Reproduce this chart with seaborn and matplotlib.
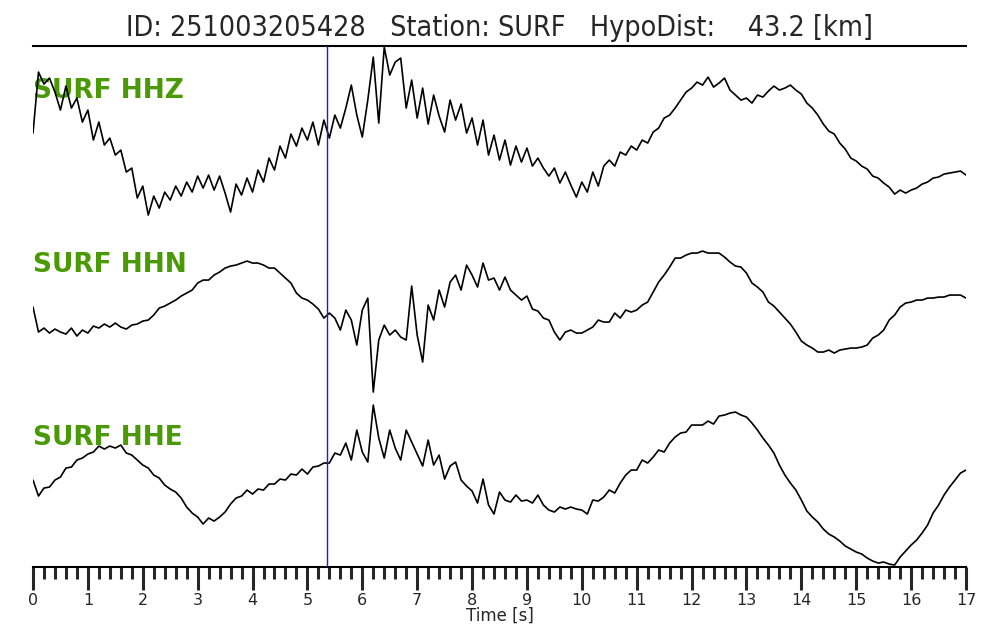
import numpy as np
import pandas as pd
import seaborn as sns
from matplotlib import pyplot as plt
from matplotlib.ticker import MultipleLocator

# sampling step of the traces [s]
dt = 0.1
station = "SURF"
event_id = "251003205428"
hypo_dist = 43.2
pick_time = 5.35

channels = ["HHZ", "HHN", "HHE"]

# amplitudes (arbitrary units, one value every 0.1 s)
hhz = [2, 63, 51, 57, 43, 25, 49, 27, 37, 13,
       25, -5, 13, -10, -3, -20, -15, -37, -33, -63,
       -51, -80, -61, -73, -57, -65, -51, -61, -47, -57,
       -41, -53, -40, -55, -41, -58, -77, -49, -60, -43,
       -57, -35, -47, -23, -35, -11, -23, 1, -11, 7,
       -5, 13, -10, 15, -3, 20, 7, 27, 50, 20,
       -2, 35, 78, 12, 88, 60, 73, 77, 27, 55,
       17, 47, 11, 40, 19, 3, 35, 15, 31, 2,
       17, -10, 15, -20, 0, -25, -5, -30, -11, -27,
       -13, -31, -23, -33, -41, -33, -48, -37, -50, -62,
       -47, -57, -37, -51, -31, -25, -31, -17, -20, -11,
       -15, -5, -8, 3, 7, 17, 20, 27, 35, 43,
       47, 53, 50, 58, 48, 52, 57, 45, 40, 35,
       37, 32, 40, 38, 44, 49, 45, 47, 50, 45,
       41, 32, 27, 20, 11, 4, 1, -8, -14, -23,
       -26, -31, -34, -41, -43, -48, -52, -59, -55, -58,
       -55, -53, -49, -47, -43, -42, -39, -38, -37, -36,
       -40]

hhn = [15, -10, -6, -11, -7, -10, -12, -6, -14, -8,
       -11, -4, -6, -2, -5, -1, -5, -7, -3, -2,
       1, 2, 7, 14, 16, 19, 22, 26, 29, 32,
       39, 42, 42, 47, 50, 54, 56, 57, 59, 61,
       59, 59, 57, 54, 54, 49, 44, 39, 29, 24,
       22, 18, 13, 4, 9, 4, -8, 12, 2, -23,
       12, 24, -70, -18, -3, -13, -8, -15, -18, 36,
       -13, -40, 17, 2, 32, 15, 40, 47, 32, 57,
       47, 35, 59, 42, 44, 32, 45, 32, 27, 22,
       26, 13, 11, 4, 2, -10, -18, -10, -8, -11,
       -11, -8, -5, 2, 0, 0, 9, 4, 12, 10,
       12, 17, 20, 30, 40, 47, 55, 64, 64, 67,
       69, 69, 71, 69, 69, 69, 65, 60, 56, 55,
       49, 39, 35, 30, 20, 16, 10, 4, -2, -10,
       -19, -23, -26, -30, -30, -28, -31, -28, -27, -26,
       -26, -25, -23, -16, -13, -8, 2, 7, 15, 19,
       20, 22, 22, 24, 24, 25, 25, 27, 27, 27,
       24]

hhe = [5, -11, -3, -2, 5, 8, 17, 18, 25, 27,
       31, 33, 39, 36, 39, 37, 40, 32, 30, 25,
       20, 17, 10, 7, 0, -4, -7, -13, -22, -28,
       -32, -39, -33, -36, -32, -27, -19, -13, -11, -5,
       -9, -4, -5, 1, 1, 6, 5, 11, 10, 16,
       11, 18, 19, 22, 22, 32, 30, 42, 25, 55,
       33, 23, 80, 47, 27, 55, 37, 25, 55, 43,
       31, 19, 45, 20, 30, 6, 19, 23, 5, -1,
       -6, -18, 6, -20, -29, -7, -15, -17, -10, -16,
       -15, -18, -10, -20, -25, -27, -22, -24, -22, -24,
       -25, -29, -15, -16, -12, -5, -8, 2, 10, 15,
       15, 25, 22, 28, 35, 33, 42, 48, 52, 53,
       60, 60, 60, 64, 61, 69, 70, 72, 73, 70,
       68, 62, 55, 47, 40, 32, 20, 10, 2, -5,
       -15, -26, -32, -37, -44, -49, -52, -56, -61, -64,
       -67, -69, -73, -76, -78, -77, -79, -80, -72, -66,
       -60, -55, -48, -40, -28, -20, -10, -2, 5, 12,
       15]

traces = [hhz, hhn, hhe]
offsets = [0, -187, -350]
label_y = [44, -130, -303]

sns.set_style("white")
plt.rcParams["font.family"] = ["DejaVu Sans"]

fig = plt.figure(figsize=(10, 6.4), dpi=100)
ax = fig.add_axes([0.033, 0.114, 0.933, 0.814])

for cha, amp, off, ly in zip(channels, traces, offsets, label_y):
    df = pd.DataFrame({"time": np.arange(len(amp)) * dt,
                       "value": np.array(amp) + off})
    sns.lineplot(data=df, x="time", y="value", color="black",
                 linewidth=1.2, ax=ax, zorder=3)
    ax.text(0.0, ly, f"{station} {cha}", color="#4a9a05", fontsize=19,
            fontweight="bold", ha="left", va="center", zorder=2)

ax.axvline(pick_time, color="#1a1ae0", linewidth=1.0, zorder=4)

ax.set_xlim(0, 17)
ax.set_ylim(-432, 89)
ax.xaxis.set_major_locator(MultipleLocator(1))
ax.xaxis.set_minor_locator(MultipleLocator(0.2))
ax.tick_params(axis="x", which="major", direction="out", length=16.5,
               width=2.2, labelsize=11.5, pad=2.5, bottom=True)
ax.tick_params(axis="x", which="minor", direction="out", length=8.6,
               width=2.2, bottom=True)
ax.set_yticks([])
ax.set_ylabel("")
ax.set_xlabel("Time [s]", fontsize=12, labelpad=-1)

for side in ["left", "right"]:
    ax.spines[side].set_visible(False)
for side in ["top", "bottom"]:
    ax.spines[side].set_linewidth(1.5)
    ax.spines[side].set_color("black")

ax.set_title(f"ID: {event_id}   Station: {station}   HypoDist:    {hypo_dist} [km]",
             fontsize=20.5, fontstretch="condensed", pad=7)

plt.savefig("out.png", dpi=100)
plt.close()
